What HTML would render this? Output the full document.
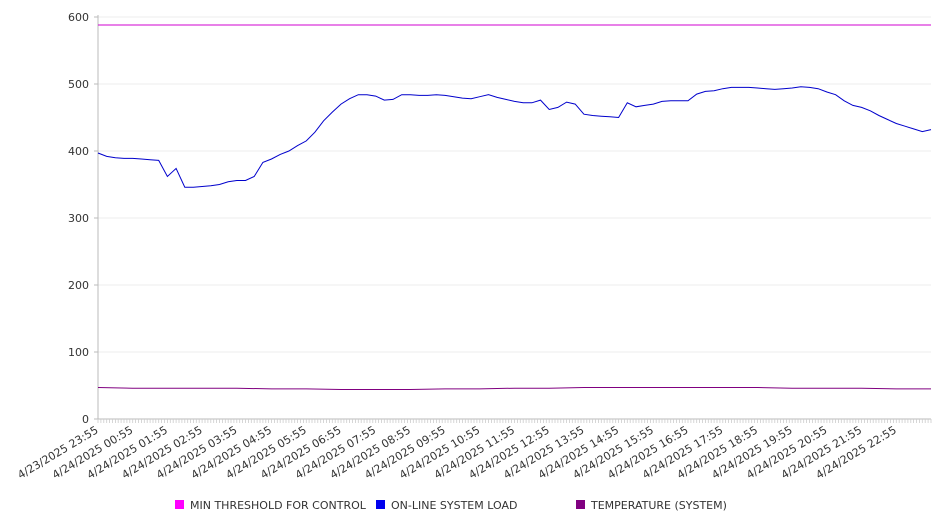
<!DOCTYPE html>
<html><head><meta charset="utf-8"><style>
body{margin:0;background:#fff;}
svg{display:block;font-family:"DejaVu Sans","Liberation Sans",sans-serif;}
</style></head><body>
<svg id="chart" width="946" height="526" viewBox="0 0 946 526">
<g id="grid"></g>
<g id="axes"></g>
<g id="series"></g>
<g id="legend"></g>
</svg>
<script>
var yTicks=[0,100,200,300,400,500,600];
var xLabels=["4/23/2025 23:55","4/24/2025 00:55","4/24/2025 01:55","4/24/2025 02:55","4/24/2025 03:55","4/24/2025 04:55","4/24/2025 05:55","4/24/2025 06:55","4/24/2025 07:55","4/24/2025 08:55","4/24/2025 09:55","4/24/2025 10:55","4/24/2025 11:55","4/24/2025 12:55","4/24/2025 13:55","4/24/2025 14:55","4/24/2025 15:55","4/24/2025 16:55","4/24/2025 17:55","4/24/2025 18:55","4/24/2025 19:55","4/24/2025 20:55","4/24/2025 21:55","4/24/2025 22:55"];
// online load, 15-minute samples
var loadValues=[397,392,390,389,389,388,387,386,362,374,346,346,347,348,350,354,356,356,362,383,388,395,400,408,415,428,445,458,470,478,484,484,482,476,477,484,484,483,483,484,483,481,479,478,481,484,480,477,474,472,472,476,462,465,473,470,455,453,452,451,450,472,466,468,470,474,475,475,475,485,489,490,493,495,495,495,494,493,492,493,494,496,495,493,488,484,475,468,465,460,453,447,441,437,433,429,432];
// temperature, hourly samples
var tempValues=[47,46,46,46,46,45,45,44,44,44,45,45,46,46,47,47,47,47,47,47,46,46,46,45,45];
var thresholdValues=[588,588];
var seriesNames=["MIN THRESHOLD FOR CONTROL","ON-LINE SYSTEM LOAD","TEMPERATURE (SYSTEM)"];
var seriesColors=["#d000d0","#0000cc","#800080"];
var legendColors=["#ff00ff","#0000ee","#800080"];

var NS="http://www.w3.org/2000/svg";
var X0=98,X1=931,Y0=419,Y1=17,HOURS=24;
function yScale(v){return Y0-(v/600)*(Y0-Y1);}
function xScale(h){return X0+h/HOURS*(X1-X0);}
function mk(t,a,p){var e=document.createElementNS(NS,t);for(var k in a)e.setAttribute(k,a[k]);p.appendChild(e);return e;}
var grid=document.getElementById('grid'),axes=document.getElementById('axes'),ser=document.getElementById('series'),leg=document.getElementById('legend');
yTicks.forEach(function(v){
  var y=yScale(v);
  if(v>0){var g=mk('line',{x1:X0,x2:X1,y1:y,y2:y,stroke:'#ececec','stroke-width':1},grid);
  
  }
  var t=mk('text',{x:89,y:y+4,'text-anchor':'end','font-size':11,fill:'#333'},axes);t.textContent=v;
  
  
  var tk=mk('line',{x1:X0-4,x2:X0,y1:y,y2:y,stroke:'#bbb'},axes);
  
  
});
var ya=mk('line',{x1:X0,x2:X0,y1:Y1-2,y2:Y0,stroke:'#bbb'},axes);


var xa=mk('line',{x1:X0,x2:X1,y1:Y0,y2:Y0,stroke:'#bbb'},axes);


var tp='';for(var i=0;i<=HOURS*12;i++){var x=xScale(i/12);tp+='M'+x.toFixed(1)+' '+Y0+'v4';}
var tks=mk('path',{d:tp,stroke:'#ccc','stroke-width':0.8},axes);


xLabels.forEach(function(l,i){
  var x=xScale(i)+1, y=Y0+13;
  var t=mk('text',{x:x,y:y,'text-anchor':'end','font-size':11,fill:'#333',transform:'rotate(-31 '+x+' '+y+')'},axes);
  t.textContent=l;
  
  
});
function line(vals,stepH,color,name){
  var d=vals.map(function(v,i){return (i?'L':'M')+xScale(i*stepH).toFixed(1)+' '+yScale(v).toFixed(1);}).join('');
  var p=mk('path',{d:d,fill:'none',stroke:color,'stroke-width':1},ser);
  
  
}
line(thresholdValues,HOURS/(thresholdValues.length-1),seriesColors[0],'threshold-line');
line(loadValues,HOURS/(loadValues.length-1),seriesColors[1],'load-line');
line(tempValues,HOURS/(tempValues.length-1),seriesColors[2],'temperature-line');
var lx=[175,376,576];
seriesNames.forEach(function(n,i){
  var r=mk('rect',{x:lx[i],y:500,width:9,height:9,fill:legendColors[i]},leg);
  
  
  var t=mk('text',{x:lx[i]+15,y:509,'font-size':11,fill:'#333'},leg);t.textContent=n;
  
  
});
</script>
</body></html>
